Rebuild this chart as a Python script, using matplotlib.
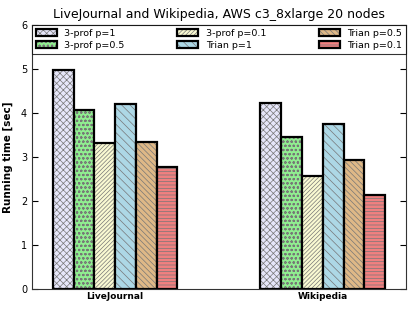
import numpy as np
import matplotlib
matplotlib.use('Agg')
import matplotlib.pyplot as plt
from matplotlib.legend_handler import HandlerTuple

datasets = ['LiveJournal', 'Wikipedia']
series = ['3-prof p=1', '3-prof p=0.5', '3-prof p=0.1', 'Trian p=1', 'Trian p=0.5', 'Trian p=0.1']
times = [
    [4.97, 4.23],  # 3-prof p=1
    [4.07, 3.45],  # 3-prof p=0.5
    [3.31, 2.57],  # 3-prof p=0.1
    [4.21, 3.76],  # Trian p=1
    [3.34, 2.93],  # Trian p=0.5
    [2.78, 2.14],  # Trian p=0.1
]
colors = ['lavender', 'lightgreen', 'lightgoldenrodyellow', 'lightblue', 'burlywood', 'lightcoral']
hatches = ['xxxxx', 'oooo', '////////', '\\\\\\\\', '\\\\\\\\\\\\', '-----']

plt.rcParams['hatch.linewidth'] = 0.5

fig = plt.figure(figsize=(4.15, 3.12), dpi=100)
ax = fig.add_axes([0.077, 0.074, 0.901, 0.846])

ind = np.arange(len(datasets))
width = 0.1
handles = []
for i, name in enumerate(series):
    # hatched fill with grey hatch lines, then a black outline on top
    h = ax.bar(ind + i * width, times[i], width, align='edge', color=colors[i],
               hatch=hatches[i], edgecolor='#777777', linewidth=0)
    o = ax.bar(ind + i * width, times[i], width, align='edge', fill=False,
               edgecolor='black', linewidth=1.6)
    handles.append((h[0], o[0]))

ax.set_xlim(-0.1, 1.7)
ax.set_ylim(0, 6)
ax.set_xticks(ind + 3 * width)
ax.set_xticklabels(datasets, fontweight='bold', fontsize=6.5)
ax.set_yticks(range(7))
ax.tick_params(axis='y', labelsize=7, direction='in', right=True, length=4)
ax.tick_params(axis='x', length=0, pad=2)
ax.set_ylabel('Running time [sec]', fontweight='bold', fontsize=7.5, labelpad=6)
ax.set_title('LiveJournal and Wikipedia, AWS c3_8xlarge 20 nodes', fontsize=9, pad=5)
for s in ax.spines.values():
    s.set_color('#333333')

leg = ax.legend(handles, series, handler_map={tuple: HandlerTuple(ndivide=1)},
                loc='upper left', bbox_to_anchor=(0, 0, 1, 1), mode='expand', ncol=3,
                borderaxespad=0, fontsize=6.8, fancybox=False, handlelength=2.2,
                labelspacing=0.35, handleheight=0.8)
leg.get_frame().set_edgecolor('black')
leg.get_frame().set_linewidth(0.8)

fig.savefig('out.png', dpi=100)
